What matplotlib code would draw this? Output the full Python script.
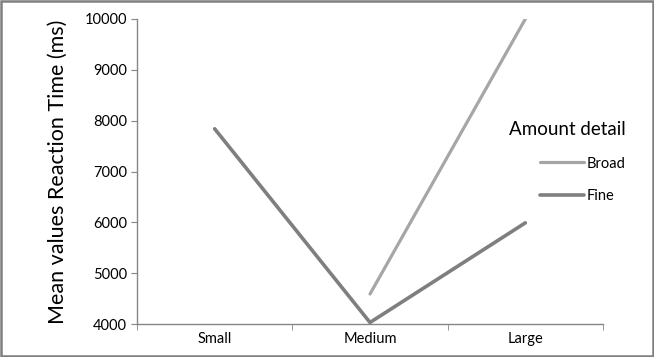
import numpy as np
import matplotlib.pyplot as plt
from matplotlib.patches import Rectangle

# chart values
categories = ["Small", "Medium", "Large"]
broad = [np.nan, 4590, 10000]
fine = [7840, 4030, 5990]
y_ticks = [4000, 5000, 6000, 7000, 8000, 9000, 10000]

plt.rcParams["font.family"] = ["Lato", "DejaVu Sans"]

fig = plt.figure(figsize=(6.54, 3.57), dpi=100)
ax = fig.add_axes([0.2095, 0.0924, 0.7125, 0.8544])

x = np.arange(len(categories))
ax.plot(x, broad, color="#a6a6a6", linewidth=2.3, solid_capstyle="round", label="Broad")
ax.plot(x, fine, color="#7f7f7f", linewidth=2.6, solid_capstyle="round", label="Fine")

ax.set_xlim(-0.5, len(categories) - 0.5)
ax.set_ylim(4000, 10000)
ax.set_yticks(y_ticks)
ax.tick_params(axis="y", labelsize=10.5, length=4, color="#868686", pad=3)

# category labels in the middle, ticks between categories
ax.set_xticks(x)
ax.set_xticklabels(categories)
ax.set_xticks(np.arange(-0.5, len(categories)), minor=True)
ax.tick_params(axis="x", which="major", length=0, labelsize=10.5, pad=6)
ax.tick_params(axis="x", which="minor", length=4, color="#868686")

for side in ["top", "right"]:
    ax.spines[side].set_visible(False)
for side in ["left", "bottom"]:
    ax.spines[side].set_color("#868686")
    ax.spines[side].set_linewidth(1)

ax.set_ylabel("Mean values Reaction Time (ms)", fontsize=15.5, labelpad=12)

leg = ax.legend(title="Amount detail", frameon=False, loc="upper left",
                bbox_to_anchor=(0.77, 0.71), fontsize=10.5, handlelength=3,
                handletextpad=0.2, labelspacing=1.3)
leg.get_title().set_fontsize(13.5)
leg._legend_box.align = "right"

fig.patches.append(Rectangle((0.002, 0.003), 0.996, 0.994, transform=fig.transFigure,
                             fill=False, edgecolor="#7f7f7f", linewidth=1.8))

fig.savefig("out.png", dpi=100)
